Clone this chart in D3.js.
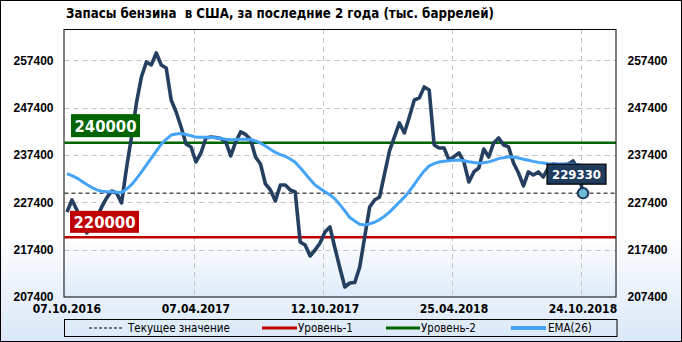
<!DOCTYPE html>
<html lang="ru">
<head>
  <meta charset="UTF-8" />
  <title>Запасы бензина в США</title>
  <script src="https://d3js.org/d3.v7.min.js"></script>
  <style>
    body { margin: 0; background: #fff; }
    svg { display: block; font-family: "DejaVu Sans Condensed", "DejaVu Sans", sans-serif; font-stretch: condensed; }
    .tick-lbl { font-size: 12px; font-weight: bold; fill: #000; }
    .grid { stroke: #c4c4c4; stroke-width: 1; stroke-dasharray: 5,4; }
    .legend text { font-size: 11.5px; fill: #000; }
  </style>
</head>
<body>
  <svg id="chart" width="682" height="342"></svg>
  <script>
    // weekly stocks, thousand barrels
    const stocks = [
      225360, 227890, 225780, 223240, 220920, 222400, 224090, 226410, 228310, 229790,
      229370, 227260, 234650, 241200, 248380, 253870, 257040, 256410, 258940, 256410,
      255770, 249010, 246480, 243310, 239720, 239090, 235920, 237820, 240990, 241200,
      241090, 240880, 240140, 237190, 240140, 242260, 241730, 240670, 236970, 235500,
      231270, 230000, 227680, 231060, 231060, 230000, 229580, 219020, 218380, 216060,
      217330, 218810, 221130, 222190, 217750, 213530, 209510, 210360, 210460, 213740,
      220070, 226410, 227890, 228520, 233380, 238240, 241200, 244160, 242040, 245420,
      249010, 249440, 251760, 251130, 239510, 238870, 238870, 236340, 237040, 237820,
      235920, 231690, 233810, 234650, 238660, 236970, 239930, 240990, 239510, 239090,
      235710, 233590, 230850, 233810, 233170, 233810, 232750, 234650, 235500, 235280,
      235280, 235500, 236130, 234230, 229330
    ];
    const ema26 = [
      233450, 233050, 232520, 231820, 231160, 230530, 230020, 229730, 229640, 229640,
      229540, 229450, 230190, 231120, 232390, 233780, 235260, 236720, 238200, 239660,
      240710, 241600, 241830, 241920, 241710, 241450, 241160, 241140, 241140, 241110,
      241010, 240880, 240710, 240590, 240650, 240710, 240710, 240670, 240350, 239910,
      239300, 238600, 237920, 237480, 237120, 236550, 235880, 234690, 233470, 232220,
      231040, 230320, 229620, 228970, 228120, 226900, 225590, 224190, 223450, 222760,
      222610, 222860, 223180, 223750, 224470, 225330, 226370, 227450, 228480, 229750,
      231160, 232660, 234020, 235090, 235580, 235920, 236070, 236170, 236260, 236320,
      236170, 235960, 235790, 235640, 235750, 235940, 236260, 236620, 236830, 237000,
      236910, 236740, 236510, 236280, 236040, 235830, 235690, 235540, 235500, 235500,
      235500, 235500, 235430, 235350, 235070
    ];
    const dateLabels = ["07.10.2016", "07.04.2017", "12.10.2017", "25.04.2018", "24.10.2018"];
    const dateIdx = [0, 26, 52, 78, 104];
    const yTicks = [207400, 217400, 227400, 237400, 247400, 257400];
    const level1 = 220000;
    const level2 = 240000;
    const current = 229330;
    const legendNames = ["Текущее значение", "Уровень-1", "Уровень-2", "EMA(26)"];

    const W = 682, H = 342;
    const L = 64.5, R = 616, T = 29, B = 297;

    const svg = d3.select("#chart");
    const defs = svg.append("defs");

    const bg = defs.append("linearGradient").attr("id", "bg").attr("x1", 0).attr("y1", 0).attr("x2", 0).attr("y2", 1);
    bg.append("stop").attr("offset", "0.68").attr("stop-color", "#ffffff");
    bg.append("stop").attr("offset", "1").attr("stop-color", "#dae8f8");
    const pg = defs.append("linearGradient").attr("id", "pg").attr("x1", 0).attr("y1", 0).attr("x2", 0).attr("y2", 1);
    pg.append("stop").attr("offset", "0.78").attr("stop-color", "#ffffff");
    pg.append("stop").attr("offset", "1").attr("stop-color", "#deebfa");

    svg.append("rect").attr("x", 0.5).attr("y", 0.5).attr("width", W - 1).attr("height", H - 1)
      .attr("fill", "url(#bg)").attr("stroke", "#000");
    svg.append("rect").attr("x", L).attr("y", T).attr("width", R - L).attr("height", B - T)
      .attr("fill", "url(#pg)");

    const x = d3.scaleLinear().domain([-0.5, 110.65]).range([L, R]);
    const y = d3.scaleLinear().domain([207400, 264000]).range([B, T]);

    // title
    svg.append("text").attr("x", 66).attr("y", 18)
      .style("font-size", "13.2px").style("font-weight", "bold").style("white-space", "pre")
      .text("Запасы бензина  в США, за последние 2 года (тыс. баррелей)");

    // grid
    svg.append("g").selectAll("line").data(yTicks.slice(1)).join("line")
      .attr("class", "grid").attr("x1", L).attr("x2", R)
      .attr("y1", d => Math.round(y(d)) + 0.5).attr("y2", d => Math.round(y(d)) + 0.5);
    svg.append("g").selectAll("line").data(dateIdx.slice(1)).join("line")
      .attr("class", "grid").attr("y1", T).attr("y2", B)
      .attr("x1", d => Math.round(x(d - 0.5)) + 0.5).attr("x2", d => Math.round(x(d - 0.5)) + 0.5);

    // axes
    const axL = svg.append("g").attr("transform", `translate(${L},0)`)
      .call(d3.axisLeft(y).tickValues(yTicks).tickSize(0).tickPadding(11).tickFormat(d3.format("d")));
    const axR = svg.append("g").attr("transform", `translate(${R},0)`)
      .call(d3.axisRight(y).tickValues(yTicks).tickSize(0).tickPadding(11.5).tickFormat(d3.format("d")));
    [axL, axR].forEach(a => {
      a.select(".domain").remove();
      a.selectAll("text").attr("class", "tick-lbl").attr("font-family", null).attr("font-size", null);
    });

    svg.append("g").selectAll("text").data(dateIdx).join("text")
      .attr("class", "tick-lbl").attr("text-anchor", "middle")
      .attr("x", d => x(d)).attr("y", 313)
      .text((d, i) => dateLabels[i]);

    // levels
    const hline = (v, color, w, dash) => svg.append("line")
      .attr("x1", L).attr("x2", R).attr("y1", y(v)).attr("y2", y(v))
      .attr("stroke", color).attr("stroke-width", w).attr("stroke-dasharray", dash);
    hline(current, "#000", 1, "4,3");
    hline(level1, "#c00000", 2.5, null);
    hline(level2, "#006400", 2.5, null);

    // series
    const line = d3.line().x((d, i) => x(i)).y(d => y(d));
    svg.append("path").datum(stocks).attr("d", line)
      .attr("fill", "none").attr("stroke", "#243f60").attr("stroke-width", 3.6).attr("stroke-linejoin", "round");
    svg.append("path").datum(ema26).attr("d", line)
      .attr("fill", "none").attr("stroke", "#45a4f7").attr("stroke-width", 3).attr("stroke-linejoin", "round");

    // plot frame
    svg.append("rect").attr("x", L - 0.5).attr("y", T + 0.5).attr("width", R - L + 0.5).attr("height", B - T - 0.5)
      .attr("fill", "none").attr("stroke", "#000").attr("stroke-width", 1);

    // value boxes
    const box = (bx, by, bw, bh, fill, stroke, txt, fs) => {
      svg.append("rect").attr("x", bx).attr("y", by).attr("width", bw).attr("height", bh)
        .attr("fill", fill).attr("stroke", stroke).attr("stroke-width", stroke ? 1.2 : 0);
      svg.append("text").attr("x", bx + bw / 2).attr("y", by + bh / 2).attr("dy", "0.36em")
        .attr("text-anchor", "middle").attr("fill", "#fff")
        .style("font-size", fs + "px").style("font-weight", "bold").text(txt);
    };
    box(71, y(level2) - 28.5, 69, 23, "#006400", null, d3.format("d")(level2), 16.5);
    box(70, y(level1) - 26.5, 69, 22, "#c00000", null, d3.format("d")(level1), 16.5);

    const lastI = stocks.length - 1;
    svg.append("circle").attr("cx", x(lastI)).attr("cy", y(stocks[lastI])).attr("r", 5.2)
      .attr("fill", "#6bbad6").attr("stroke", "#1e3a5c").attr("stroke-width", 2);
    box(x(lastI) - 36, y(stocks[lastI]) - 29, 59, 20, "#1f3b5e", "#000", d3.format("d")(current), 13);

    // legend
    const lg = svg.append("g").attr("class", "legend");
    lg.append("rect").attr("x", 64.5).attr("y", 319.5).attr("width", 552.5).attr("height", 17)
      .attr("fill", "none").attr("stroke", "#000");
    const items = [
      { x1: 89, x2: 124, tx: 128, color: "#000", w: 1, dash: "3,2" },
      { x1: 262, x2: 297, tx: 298, color: "#c00000", w: 3, dash: null },
      { x1: 386, x2: 420, tx: 421, color: "#006400", w: 3, dash: null },
      { x1: 511, x2: 546, tx: 548, color: "#45a4f7", w: 4, dash: null }
    ];
    items.forEach((it, i) => {
      lg.append("line").attr("x1", it.x1).attr("x2", it.x2).attr("y1", 328).attr("y2", 328)
        .attr("stroke", it.color).attr("stroke-width", it.w).attr("stroke-dasharray", it.dash);
      lg.append("text").attr("x", it.tx).attr("y", 332).text(legendNames[i]);
    });
  </script>
</body>
</html>
